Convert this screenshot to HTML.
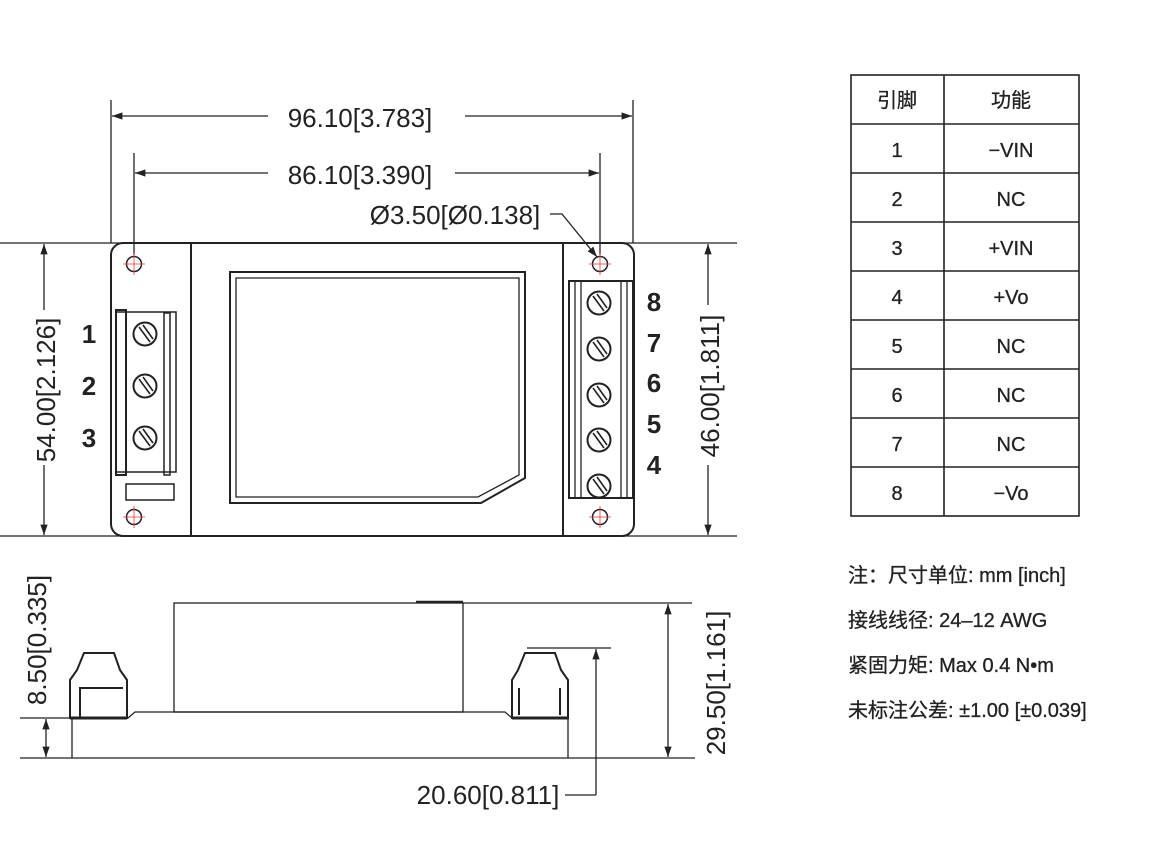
<!DOCTYPE html>
<html><head><meta charset="utf-8"><style>
html,body{margin:0;padding:0;background:#fff;}
svg{display:block;}
text{font-family:"Liberation Sans","Noto Sans CJK SC",sans-serif;fill:#222;}
</style></head><body>
<svg width="1170" height="841" viewBox="0 0 1170 841" xmlns="http://www.w3.org/2000/svg">
<defs>
<marker id="a" viewBox="0 0 10 10" refX="10" refY="5" markerWidth="8" markerHeight="8" orient="auto-start-reverse"><path d="M0,1.5 L10,5 L0,8.5 z" fill="#222"/></marker>
<g id="scr"><circle r="11.5" fill="#fff" stroke="#222" stroke-width="2"/><line x1="-6" y1="-7" x2="5" y2="8" stroke="#222" stroke-width="1.6"/><line x1="-2" y1="-9" x2="8" y2="5" stroke="#222" stroke-width="1.6"/></g>
<g id="hole"><circle r="7.5" fill="none" stroke="#222" stroke-width="1.5"/><line x1="-11" y1="0" x2="11" y2="0" stroke="#e33" stroke-width="0.8"/><line x1="0" y1="-11" x2="0" y2="11" stroke="#e33" stroke-width="0.8"/></g>
</defs>
<g stroke="#222" fill="none" stroke-width="1.3">
<line x1="0" y1="243" x2="737" y2="243"/>
<line x1="0" y1="536" x2="737" y2="536"/>
<line x1="111" y1="100" x2="111" y2="243"/>
<line x1="633" y1="100" x2="633" y2="243"/>
<line x1="134" y1="153" x2="134" y2="255"/>
<line x1="600" y1="153" x2="600" y2="255"/>
<line x1="112" y1="116" x2="268" y2="116" marker-start="url(#a)"/>
<line x1="465" y1="116" x2="632" y2="116" marker-end="url(#a)"/>
<line x1="135" y1="173" x2="268" y2="173" marker-start="url(#a)"/>
<line x1="455" y1="173" x2="599" y2="173" marker-end="url(#a)"/>
<line x1="44" y1="244" x2="44" y2="310" marker-start="url(#a)"/>
<line x1="44" y1="465" x2="44" y2="535" marker-end="url(#a)"/>
<line x1="708" y1="244" x2="708" y2="305" marker-start="url(#a)"/>
<line x1="708" y1="465" x2="708" y2="535" marker-end="url(#a)"/>
<polyline points="550,214 562,214 597,257" marker-end="url(#a)"/>
<rect x="111" y="243" width="523" height="293" rx="12" stroke-width="2"/>
<line x1="191" y1="243" x2="191" y2="536" stroke-width="2"/>
<line x1="563" y1="243" x2="563" y2="536" stroke-width="2"/>
<path d="M230,272 H525 V478 L481,503 H230 Z" stroke-width="2"/>
<path d="M236,278 H519 V475 L478,497 H236 Z" stroke-width="1.3"/>
<rect x="116" y="312" width="60" height="160" stroke-width="1.5"/>
<rect x="116" y="310" width="10" height="165" stroke-width="2"/>
<rect x="164" y="313" width="6" height="162" stroke-width="1.5"/>
<rect x="126" y="484" width="48" height="16" stroke-width="1.5"/>
<rect x="569" y="281" width="64" height="217" stroke-width="2"/>
<line x1="575" y1="281" x2="575" y2="498"/>
<line x1="581" y1="281" x2="581" y2="498"/>
<line x1="621" y1="281" x2="621" y2="498"/>
<line x1="627" y1="281" x2="627" y2="498"/>
<line x1="20" y1="758" x2="695" y2="758"/>
<line x1="20" y1="718" x2="70" y2="718"/>
<line x1="72" y1="718" x2="72" y2="758"/>
<line x1="568" y1="718" x2="568" y2="758"/>
<path d="M128,718 L135,712 H505 L512,718" />
<rect x="174" y="603" width="289" height="109"/>
<line x1="463" y1="603" x2="692" y2="603"/>
<line x1="416" y1="602" x2="463" y2="602" stroke-width="2.5"/>
<path d="M70,718 V680 L77,670 L84,653 H114 L120,670 L127,680 V718 Z" stroke-width="2"/>
<path d="M80,718 V688 H123" stroke-width="2"/>
<line x1="70" y1="718" x2="127" y2="718" stroke-width="3"/>
<path d="M512,718 V680 L518,670 L525,653 H555 L561,670 L568,680 V718 Z" stroke-width="2"/>
<line x1="512" y1="718" x2="568" y2="718" stroke-width="3"/>
<line x1="519" y1="688" x2="519" y2="715" stroke-width="2"/>
<line x1="560" y1="688" x2="560" y2="715" stroke-width="2"/>
<line x1="527" y1="648" x2="611" y2="648"/>
<line x1="596" y1="649" x2="596" y2="795" marker-start="url(#a)"/>
<line x1="565" y1="795" x2="596" y2="795"/>
<line x1="668" y1="604" x2="668" y2="757" marker-start="url(#a)" marker-end="url(#a)"/>
<line x1="46" y1="719" x2="46" y2="757" marker-start="url(#a)" marker-end="url(#a)"/>
<rect x="851" y="75" width="228" height="441" stroke-width="1.6"/>
<line x1="944" y1="75" x2="944" y2="516" stroke-width="1.6"/>
<g stroke-width="1.4">
<line x1="851" y1="124" x2="1079" y2="124"/><line x1="851" y1="173" x2="1079" y2="173"/>
<line x1="851" y1="222" x2="1079" y2="222"/><line x1="851" y1="271" x2="1079" y2="271"/>
<line x1="851" y1="320" x2="1079" y2="320"/><line x1="851" y1="369" x2="1079" y2="369"/>
<line x1="851" y1="418" x2="1079" y2="418"/><line x1="851" y1="467" x2="1079" y2="467"/>
</g>
</g>
<use href="#hole" x="134" y="264"/><use href="#hole" x="600" y="264"/>
<use href="#hole" x="134" y="517"/><use href="#hole" x="600" y="517"/>
<use href="#scr" x="145" y="334"/><use href="#scr" x="145" y="386"/><use href="#scr" x="145" y="438"/>
<use href="#scr" x="599" y="303"/><use href="#scr" x="599" y="349"/><use href="#scr" x="599" y="395"/><use href="#scr" x="599" y="440"/><use href="#scr" x="599" y="486"/>
<g font-size="26" text-anchor="middle">
<text x="360" y="127">96.10[3.783]</text>
<text x="360" y="184">86.10[3.390]</text>
<text x="455" y="224">Ø3.50[Ø0.138]</text>
<text transform="translate(55,390) rotate(-90)">54.00[2.126]</text>
<text transform="translate(719,386) rotate(-90)">46.00[1.811]</text>
<text transform="translate(46,640) rotate(-90)">8.50[0.335]</text>
<text transform="translate(725,683) rotate(-90)">29.50[1.161]</text>
<text x="488" y="804">20.60[0.811]</text>
</g>
<g font-size="26" font-weight="bold" text-anchor="middle">
<text x="89" y="343">1</text><text x="89" y="395">2</text><text x="89" y="447">3</text>
<text x="654" y="311">8</text><text x="654" y="352">7</text><text x="654" y="392">6</text><text x="654" y="433">5</text><text x="654" y="474">4</text>
</g>
<g font-size="20" text-anchor="middle" stroke="#222" stroke-width="0.3">
<text x="897" y="107">引脚</text><text x="1011" y="107">功能</text>
<text x="897" y="157">1</text><text x="1011" y="157">−VIN</text>
<text x="897" y="206">2</text><text x="1011" y="206">NC</text>
<text x="897" y="255">3</text><text x="1011" y="255">+VIN</text>
<text x="897" y="304">4</text><text x="1011" y="304">+Vo</text>
<text x="897" y="353">5</text><text x="1011" y="353">NC</text>
<text x="897" y="402">6</text><text x="1011" y="402">NC</text>
<text x="897" y="451">7</text><text x="1011" y="451">NC</text>
<text x="897" y="500">8</text><text x="1011" y="500">−Vo</text>
</g>
<g font-size="20" stroke="#222" stroke-width="0.3">
<text x="848" y="582">注：尺寸单位: mm [inch]</text>
<text x="848" y="627">接线线径: 24–12 AWG</text>
<text x="848" y="672">紧固力矩: Max 0.4 N•m</text>
<text x="848" y="717">未标注公差: ±1.00 [±0.039]</text>
</g>
</svg>
</body></html>
